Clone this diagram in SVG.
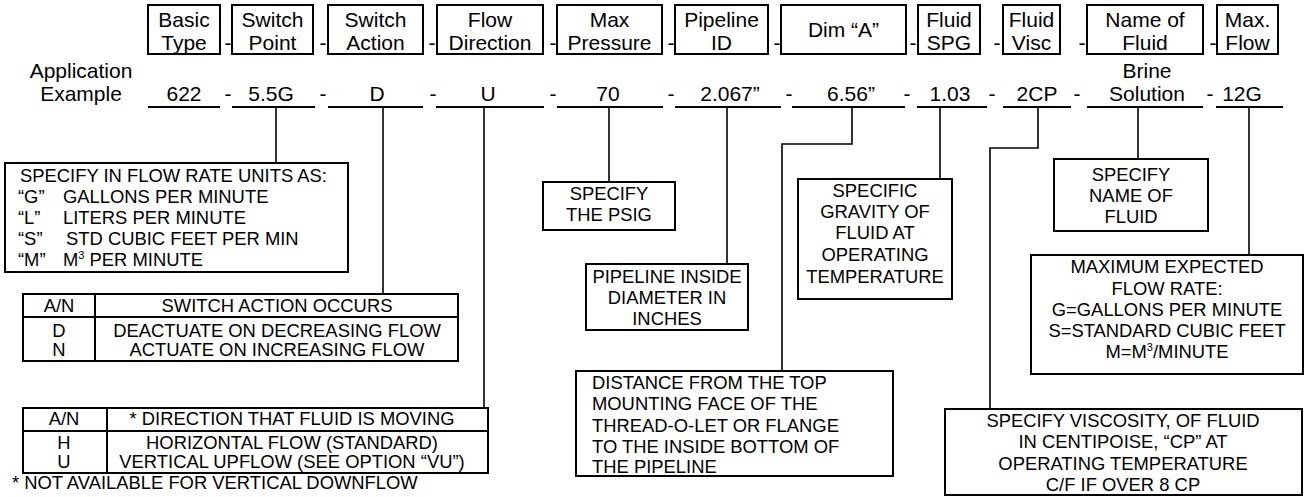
<svg xmlns="http://www.w3.org/2000/svg" width="1305" height="497" viewBox="0 0 1305 497">
<style>
text{font-family:"Liberation Sans",Arial,sans-serif;fill:#000}
.h{font-size:21px;text-anchor:middle}
.v{font-size:21px;text-anchor:middle}
.d{font-size:21px;text-anchor:middle}
.t{font-size:18.4px}
.c{text-anchor:middle}
.box{fill:#fff;stroke:#000;stroke-width:2}
.ln{fill:none;stroke:#000;stroke-width:2}
.con{fill:none;stroke:#000;stroke-width:1.6}
</style>
<rect width="1305" height="497" fill="#fff"/>

<g id="headers">
<g id="h-basic"><rect class="box" x="148" y="5" width="72" height="49"/><text class="h" x="184" y="27">Basic</text><text class="h" x="184" y="50">Type</text></g>
<g id="h-switchpoint"><rect class="box" x="232" y="5" width="81" height="49"/><text class="h" x="272.5" y="27">Switch</text><text class="h" x="272.5" y="50">Point</text></g>
<g id="h-switchaction"><rect class="box" x="328" y="5" width="95" height="49"/><text class="h" x="375.5" y="27">Switch</text><text class="h" x="375.5" y="50">Action</text></g>
<g id="h-flowdir"><rect class="box" x="437" y="5" width="106" height="49"/><text class="h" x="490" y="27">Flow</text><text class="h" x="490" y="50">Direction</text></g>
<g id="h-maxpress"><rect class="box" x="557" y="5" width="105" height="49"/><text class="h" x="609.5" y="27">Max</text><text class="h" x="609.5" y="50">Pressure</text></g>
<g id="h-pipeid"><rect class="box" x="675" y="5" width="93" height="49"/><text class="h" x="721.5" y="27">Pipeline</text><text class="h" x="721.5" y="50">ID</text></g>
<g id="h-dima"><rect class="box" x="781" y="5" width="125" height="49"/><text class="h" x="843.5" y="37">Dim “A”</text></g>
<g id="h-spg"><rect class="box" x="918" y="5" width="62" height="49"/><text class="h" x="949" y="27">Fluid</text><text class="h" x="949" y="50">SPG</text></g>
<g id="h-visc"><rect class="box" x="1003" y="5" width="57" height="49"/><text class="h" x="1031.5" y="27">Fluid</text><text class="h" x="1031.5" y="50">Visc</text></g>
<g id="h-name"><rect class="box" x="1087" y="5" width="116" height="49"/><text class="h" x="1145" y="27">Name of</text><text class="h" x="1145" y="50">Fluid</text></g>
<g id="h-maxflow"><rect class="box" x="1217" y="5" width="61" height="49"/><text class="h" x="1247.5" y="27">Max.</text><text class="h" x="1247.5" y="50">Flow</text></g>
</g>

<g id="header-dashes">
<text class="d" x="228" y="50">-</text><text class="d" x="323" y="50">-</text><text class="d" x="432" y="50">-</text><text class="d" x="553" y="50">-</text><text class="d" x="671" y="50">-</text><text class="d" x="777" y="50">-</text><text class="d" x="913" y="50">-</text><text class="d" x="997" y="50">-</text><text class="d" x="1082" y="50">-</text><text class="d" x="1213" y="50">-</text>
</g>

<g id="example">
<text class="h" x="81" y="78">Application</text>
<text class="h" x="81" y="101">Example</text>
<g id="underlines">
<path class="ln" d="M148,107H220M232,107H315M328,107H423M436,107H544M557,107H663M675,107H781M792,107H905M917,107H987M1003,107H1071M1087,107H1203M1216,107H1283"/>
</g>
<text class="v" x="184" y="101">622</text>
<text class="v" x="271" y="101">5.5G</text>
<text class="v" x="377" y="101">D</text>
<text class="v" x="488" y="101">U</text>
<text class="v" x="608" y="101">70</text>
<text class="v" x="730" y="101">2.067”</text>
<text class="v" x="851" y="101">6.56”</text>
<text class="v" x="950" y="101">1.03</text>
<text class="v" x="1037" y="101">2CP</text>
<text class="v" x="1147" y="78">Brine</text>
<text class="v" x="1147" y="101">Solution</text>
<text class="v" x="1242" y="101">12G</text>
<text class="d" x="228" y="101">-</text><text class="d" x="323" y="101">-</text><text class="d" x="433" y="101">-</text><text class="d" x="553" y="101">-</text><text class="d" x="671" y="101">-</text><text class="d" x="789" y="101">-</text><text class="d" x="907" y="101">-</text><text class="d" x="992" y="101">-</text><text class="d" x="1077" y="101">-</text><text class="d" x="1210" y="101">-</text>
</g>

<g id="connectors">
<path class="con" d="M276,107V163"/>
<path class="con" d="M383,107V294"/>
<path class="con" d="M484,107V408"/>
<path class="con" d="M609,107V182"/>
<path class="con" d="M727,107V264"/>
<path class="con" d="M852,107V144H782V371"/>
<path class="con" d="M940,107V179"/>
<path class="con" d="M1038,107V148H990V409"/>
<path class="con" d="M1138,107V159"/>
<path class="con" d="M1249,107V255"/>
</g>

<g id="units">
<rect class="box" x="5" y="163" width="343" height="109"/>
<text class="t" x="20" y="182">SPECIFY IN FLOW RATE UNITS AS:</text>
<text class="t" x="18" y="203">“G”</text><text class="t" x="63" y="203">GALLONS PER MINUTE</text>
<text class="t" x="18" y="224">“L”</text><text class="t" x="63" y="224">LITERS PER MINUTE</text>
<text class="t" x="18" y="245">“S”</text><text class="t" x="66" y="245">STD CUBIC FEET PER MIN</text>
<text class="t" x="18" y="266">“M”</text><text class="t" x="63" y="266">M<tspan font-size="11" dy="-7">3</tspan><tspan dy="7"> PER MINUTE</tspan></text>
</g>

<g id="switch-action-table">
<rect class="box" x="23" y="294" width="435" height="67"/>
<path class="ln" d="M23,317H458M95,294V361"/>
<text class="t c" x="59" y="312">A/N</text>
<text class="t c" x="277" y="312">SWITCH ACTION OCCURS</text>
<text class="t c" x="59" y="337">D</text>
<text class="t c" x="277" y="337">DEACTUATE ON DECREASING FLOW</text>
<text class="t c" x="59" y="356">N</text>
<text class="t c" x="277" y="356">ACTUATE ON INCREASING FLOW</text>
</g>

<g id="flow-direction-table">
<rect class="box" x="23" y="408" width="465" height="65"/>
<path class="ln" d="M23,431H488M107,408V473"/>
<text class="t c" x="64" y="425">A/N</text>
<text class="t c" x="292" y="425">* DIRECTION THAT FLUID IS MOVING</text>
<text class="t c" x="64" y="449">H</text>
<text class="t c" x="292" y="449">HORIZONTAL FLOW (STANDARD)</text>
<text class="t c" x="64" y="468">U</text>
<text class="t c" x="292" y="468">VERTICAL UPFLOW (SEE OPTION “VU”)</text>
<text class="t" x="12" y="489">* NOT AVAILABLE FOR VERTICAL DOWNFLOW</text>
</g>

<g id="psig">
<rect class="box" x="543" y="182" width="132" height="48"/>
<text class="t c" x="609" y="200">SPECIFY</text>
<text class="t c" x="609" y="221">THE PSIG</text>
</g>

<g id="pipeline">
<rect class="box" x="586" y="264" width="162" height="66"/>
<text class="t c" x="667" y="283">PIPELINE INSIDE</text>
<text class="t c" x="667" y="304">DIAMETER IN</text>
<text class="t c" x="667" y="325">INCHES</text>
</g>

<g id="distance">
<rect class="box" x="576" y="371" width="317" height="105"/>
<text class="t" x="592" y="389">DISTANCE FROM THE TOP</text>
<text class="t" x="592" y="410">MOUNTING FACE OF THE</text>
<text class="t" x="592" y="432">THREAD-O-LET OR FLANGE</text>
<text class="t" x="592" y="453">TO THE INSIDE BOTTOM OF</text>
<text class="t" x="592" y="473">THE PIPELINE</text>
</g>

<g id="gravity">
<rect class="box" x="798" y="179" width="154" height="120"/>
<text class="t c" x="875" y="197">SPECIFIC</text>
<text class="t c" x="875" y="218">GRAVITY OF</text>
<text class="t c" x="875" y="239">FLUID AT</text>
<text class="t c" x="875" y="261">OPERATING</text>
<text class="t c" x="875" y="283">TEMPERATURE</text>
</g>

<g id="name">
<rect class="box" x="1054" y="159" width="154" height="72"/>
<text class="t c" x="1131" y="181">SPECIFY</text>
<text class="t c" x="1131" y="202">NAME OF</text>
<text class="t c" x="1131" y="223">FLUID</text>
</g>

<g id="maxflow">
<rect class="box" x="1031" y="255" width="272" height="119"/>
<text class="t c" x="1167" y="273">MAXIMUM EXPECTED</text>
<text class="t c" x="1167" y="295">FLOW RATE:</text>
<text class="t c" x="1167" y="316">G=GALLONS PER MINUTE</text>
<text class="t c" x="1167" y="337">S=STANDARD CUBIC FEET</text>
<text class="t c" x="1167" y="358">M=M<tspan font-size="11" dy="-7">3</tspan><tspan dy="7">/MINUTE</tspan></text>
</g>

<g id="viscosity">
<rect class="box" x="945" y="409" width="357" height="86"/>
<text class="t c" x="1123" y="427">SPECIFY VISCOSITY, OF FLUID</text>
<text class="t c" x="1123" y="448">IN CENTIPOISE, “CP” AT</text>
<text class="t c" x="1123" y="470">OPERATING TEMPERATURE</text>
<text class="t c" x="1123" y="491">C/F IF OVER 8 CP</text>
</g>
</svg>
